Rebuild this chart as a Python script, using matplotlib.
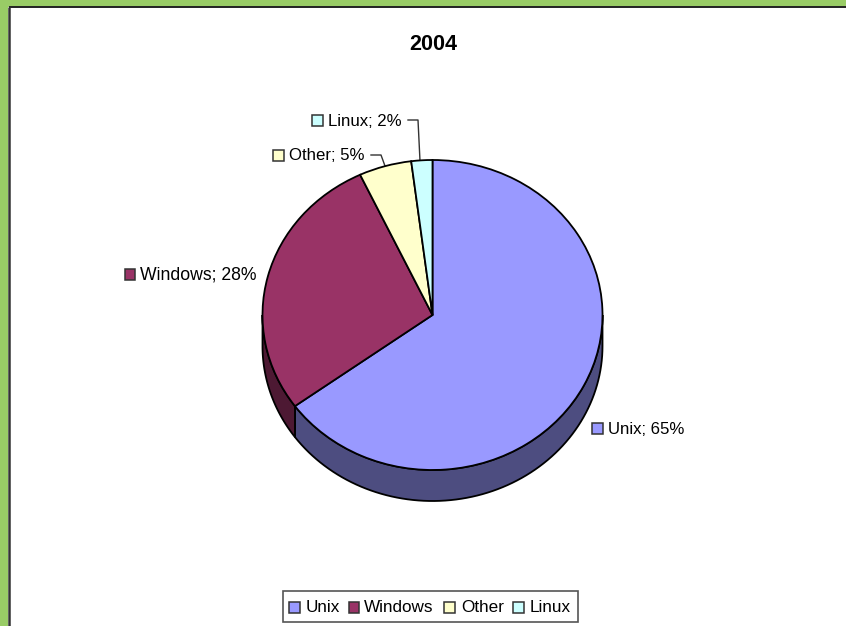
import numpy as np
import matplotlib
matplotlib.use("Agg")
import matplotlib.pyplot as plt
from matplotlib.patches import Rectangle, Polygon

plt.rcParams['font.family'] = ['Liberation Sans', 'DejaVu Sans']

titulo = "2004"
categorias = ["Unix", "Windows", "Other", "Linux"]
valores = [65, 28, 5, 2]
colores = ["#9999ff", "#993366", "#ffffcc", "#ccffff"]
colores_lado = ["#4d4d80", "#4d1933"]

W, H = 846, 626
fig = plt.figure(figsize=(W / 100, H / 100), dpi=100, facecolor="white")

# fondo en pixeles para el marco, el titulo, las etiquetas y la leyenda
bg = fig.add_axes([0, 0, 1, 1])
bg.set_xlim(0, W)
bg.set_ylim(H, 0)
bg.axis("off")
bg.add_patch(Rectangle((0, 0), W, 7, fc="#99cc66", ec="none"))
bg.add_patch(Rectangle((0, 0), 8, H, fc="#99cc66", ec="none"))
bg.plot([9, W], [7, 7], color="#222222", lw=1.4, solid_capstyle="butt")
bg.plot([9, 9], [7, H], color="#333333", lw=1.8, solid_capstyle="butt")

bg.text(433.5, 44, titulo, ha="center", va="center", fontsize=15.5, fontweight="bold", color="black")

# pastel: el eje cubre el radio mas un margen, asi queda elipse
cx, cy, rx, ry, prof = 432.5, 315, 170, 155, 31
ax = fig.add_axes([(cx - rx * 1.25) / W, 1 - (cy + ry * 1.25) / H, rx * 2.5 / W, ry * 2.5 / H])
ax.patch.set_alpha(0)
wedges, _ = ax.pie(valores, colors=colores, startangle=90, counterclock=False,
                   wedgeprops=dict(edgecolor="black", linewidth=1.3, zorder=3))
ax.set_aspect("auto")
ax.set_xlim(-1.25, 1.25)
ax.set_ylim(-1.25, 1.25)

# lado del cilindro, solo la mitad de abajo
d = prof / ry
ang = 90.0
for i, v in enumerate(valores):
    fin = ang - v * 3.6
    # los angulos negativos bajan por el frente
    if ang > -180 and fin < 0 and i < len(colores_lado):
        t = np.radians(np.linspace(max(fin, -180), min(ang, 0), 80))
        xs = np.cos(t)
        ys = np.sin(t)
        pts = np.r_[np.c_[xs, ys], np.c_[xs[::-1], ys[::-1] - d]]
        ax.add_patch(Polygon(pts, closed=True, fc=colores_lado[i], ec="black", lw=1.3, zorder=2))
    ang = fin

# etiquetas con su cuadrito
def etiqueta(x, y, i, txt, fs=12.1):
    bg.add_patch(Rectangle((x, y - 5), 10.5, 10.5, fc=colores[i], ec="#333333", lw=1.1))
    bg.text(x + 16, y + 1, txt, ha="left", va="center", fontsize=fs, color="black")

etiqueta(592, 428, 0, f"{categorias[0]}; {valores[0]}%")
etiqueta(124.5, 274, 1, f"{categorias[1]}; {valores[1]}%", fs=12.7)
etiqueta(273, 155, 2, f"{categorias[2]}; {valores[2]}%")
etiqueta(312, 120, 3, f"{categorias[3]}; {valores[3]}%")

# lineas guia de Other y Linux
bg.plot([371, 381, 385], [155, 155, 166], color="#333333", lw=1, zorder=5)
bg.plot([408, 418, 420], [120, 120, 161], color="#333333", lw=1, zorder=5)

# leyenda
bg.add_patch(Rectangle((283, 591), 294.5, 31, fc="white", ec="#555555", lw=1.2))
for x, i, tx in zip([289, 348.5, 444, 513], range(4), [306, 364, 461, 530]):
    bg.add_patch(Rectangle((x, 602), 10.5, 10.5, fc=colores[i], ec="#333333", lw=1.1))
    bg.text(tx, 607.5, categorias[i], ha="left", va="center", fontsize=12.3, color="black")

fig.savefig("out.png", dpi=100, facecolor="white")
